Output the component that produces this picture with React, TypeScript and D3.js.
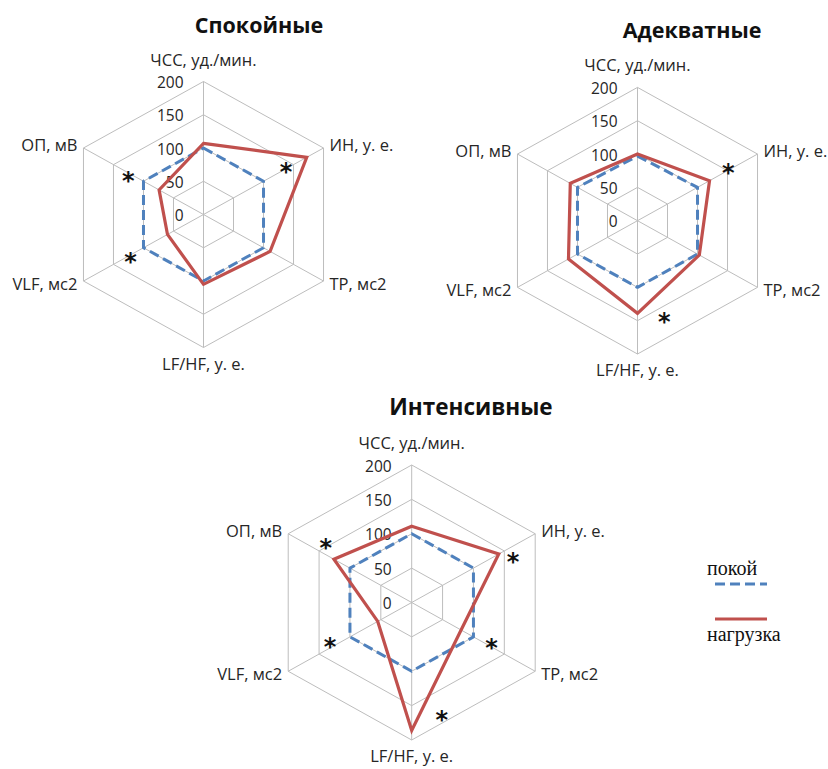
import React from "react";
import * as d3 from "d3";

const axes = ["ЧСС, уд./мин.", "ИН, у. е.", "ТР, мс2", "LF/HF, у. е.", "VLF, мс2", "ОП, мВ"];
const ticks = [0, 50, 100, 150, 200];
const rings = [50, 100, 150, 200];

const calmRest = [100, 100, 100, 100, 100, 100];
const calmLoad = [107, 172, 111, 105, 60, 74];
const adequateRest = [97, 100, 100, 100, 100, 100];
const adequateLoad = [100, 120, 103, 139, 115, 112];
const intenseRest = [100, 100, 100, 100, 100, 100];
const intenseLoad = [111, 141, 80, 186, 55, 126];

// significance marks: axis index, value along axis, angular shift (deg)
const calmStars = [
  { axis: 1, value: 139, shift: -1 },
  { axis: 5, value: 123, shift: -2 },
  { axis: 4, value: 123, shift: -1 },
];
const adequateStars = [
  { axis: 1, value: 153, shift: -1 },
  { axis: 3, value: 150, shift: -15 },
];
const intenseStars = [
  { axis: 5, value: 148, shift: 5.6 },
  { axis: 1, value: 157, shift: 5 },
  { axis: 2, value: 127, shift: -2 },
  { axis: 4, value: 128, shift: 3.6 },
  { axis: 3, value: 169, shift: -14.4 },
];

const legendLabels = ["покой", "нагрузка"];

const RED = "#C0504D";
const BLUE = "#4F81BD";
const GRID = "#BDBDBD";
const TXT = "#262626";
const SANS = "'Open Sans', 'Noto Sans', sans-serif";

type Star = { axis: number; value: number; shift: number };

function Radar(props: {
  cx: number; cy: number; rx: number; ry: number;
  title: string; titleX: number; titleY: number; titleSize: number;
  rest: number[]; load: number[]; stars: Star[];
}) {
  const { cx, cy, rx, ry, title, titleX, titleY, titleSize, rest, load, stars } = props;
  const sx = d3.scaleLinear().domain([0, 200]).range([0, rx]);
  const sy = d3.scaleLinear().domain([0, 200]).range([0, ry]);
  const n = axes.length;
  const ang = (i: number) => (i * 2 * Math.PI) / n;
  const pt = (i: number, v: number, shiftDeg = 0): [number, number] => {
    const a = ang(i) + (shiftDeg * Math.PI) / 180;
    return [cx + sx(v) * Math.sin(a), cy - sy(v) * Math.cos(a)];
  };
  const line = d3.line<[number, number]>().curve(d3.curveLinearClosed);
  const ringPath = (v: number) => line(axes.map((_, i) => pt(i, v)));
  const seriesPath = (vals: number[]) => line(vals.map((v, i) => pt(i, v)));

  const labelPos = (i: number) => {
    const [vx, vy] = pt(i, 200);
    switch (i) {
      case 0: return { x: vx, y: vy - 16, anchor: "middle" };
      case 1: return { x: vx + 6, y: vy + 3, anchor: "start" };
      case 2: return { x: vx + 6, y: vy + 9, anchor: "start" };
      case 3: return { x: vx, y: vy + 22, anchor: "middle" };
      case 4: return { x: vx - 6, y: vy + 9, anchor: "end" };
      default: return { x: vx - 6, y: vy + 3, anchor: "end" };
    }
  };

  return (
    <g>
      {rings.map((r) => (
        <path key={r} d={ringPath(r) || ""} fill="none" stroke={GRID} strokeWidth={1} />
      ))}
      {axes.map((_, i) => {
        const [x, y] = pt(i, 200);
        return <line key={i} x1={cx} y1={cy} x2={x} y2={y} stroke={GRID} strokeWidth={1} />;
      })}
      {ticks.map((t) => (
        <text key={t} x={cx - 20} y={cy - sy(t) + 6.5} textAnchor="end" fontFamily={SANS} fontSize={15.5} fill={TXT}>
          {t}
        </text>
      ))}
      <path d={seriesPath(rest) || ""} fill="none" stroke={BLUE} strokeWidth={3} strokeDasharray="10,5" strokeLinejoin="round" />
      <path d={seriesPath(load) || ""} fill="none" stroke={RED} strokeWidth={3.2} strokeLinejoin="miter" />
      {axes.map((a, i) => {
        const p = labelPos(i);
        return (
          <text key={a} x={p.x} y={p.y} textAnchor={p.anchor as any} fontFamily={SANS} fontSize={16.5} fill={TXT}>
            {a}
          </text>
        );
      })}
      {stars.map((s, k) => {
        const [x, y] = pt(s.axis, s.value, s.shift);
        return (
          <text key={k} x={x} y={y + 13} textAnchor="middle" fontFamily="'DejaVu Sans', sans-serif" fontWeight="bold" fontSize={24} fill="#111">
            *
          </text>
        );
      })}
      <text x={titleX} y={titleY} textAnchor="middle" fontFamily={SANS} fontWeight="bold" fontSize={titleSize} fill="#111">
        {title}
      </text>
    </g>
  );
}

export default function App() {
  return (
    <svg width={828} height={769} style={{ position: "absolute", left: 0, top: 0, background: "#fff" }}>
      <Radar cx={203.5} cy={214.5} rx={138.6} ry={133} title="Спокойные" titleX={259} titleY={33} titleSize={21.5}
        rest={calmRest} load={calmLoad} stars={calmStars} />
      <Radar cx={637.5} cy={220.7} rx={138.6} ry={133.3} title="Адекватные" titleX={692} titleY={38} titleSize={21.5}
        rest={adequateRest} load={adequateLoad} stars={adequateStars} />
      <Radar cx={411.7} cy={602.5} rx={142.6} ry={137.5} title="Интенсивные" titleX={471} titleY={415} titleSize={22.5}
        rest={intenseRest} load={intenseLoad} stars={intenseStars} />
      <g>
        <text x={707} y={575} fontFamily="'Liberation Serif', 'Times New Roman', serif" fontSize={20} fill="#111">{legendLabels[0]}</text>
        <line x1={715} x2={767} y1={584} y2={584} stroke={BLUE} strokeWidth={3} strokeDasharray="10,5" />
        <line x1={715} x2={767} y1={619} y2={619} stroke={RED} strokeWidth={3} />
        <text x={707} y={641} fontFamily="'Liberation Serif', 'Times New Roman', serif" fontSize={20} fill="#111">{legendLabels[1]}</text>
      </g>
    </svg>
  );
}
